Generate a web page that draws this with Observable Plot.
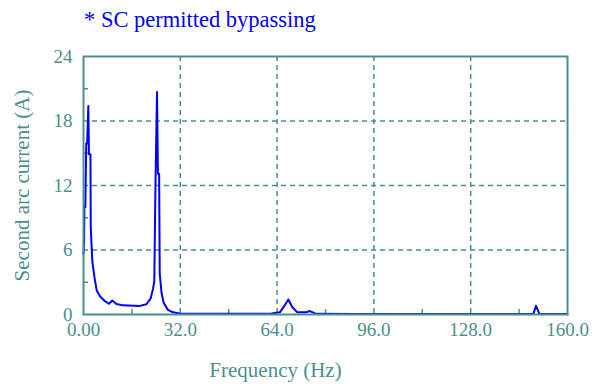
<!DOCTYPE html>
<html>
<head>
<meta charset="utf-8">
<script src="https://cdn.jsdelivr.net/npm/d3@7"></script>
<script src="https://cdn.jsdelivr.net/npm/@observablehq/plot@0.6"></script>
<style>
  body { margin: 0; background: #fff; }
  #title { height: 40px; font-family: "Liberation Serif", "DejaVu Serif", serif; font-size: 22.5px; color: #0000ff; padding-left: 84px; line-height: 40px; box-sizing: border-box; white-space: nowrap; }
</style>
</head>
<body>
<div id="title"></div>
<div id="chart"></div>
<script>
const titleText = "* SC permitted bypassing";
const xLabel = "Frequency (Hz)";
const yLabel = "Second arc current (A)";
const xTicks = [0, 32, 64, 96, 128, 160];
const xTickLabels = ["0.00", "32.0", "64.0", "96.0", "128.0", "160.0"];
const yTicks = [0, 6, 12, 18, 24];
const yTickLabels = ["0", "6", "12", "18", "24"];
const xMinor = [16, 48, 80, 112, 144];
const yMinor = [3, 9, 15, 21];

const freq = [0, 0.2, 0.3, 0.6, 0.9, 1.2, 1.6, 1.8, 2.3, 2.4, 2.9, 3.6, 4.4, 5.5, 7.1, 8.4, 9.5, 10.9, 13.1, 18.6, 20.8, 22.2, 23.0, 23.4, 23.8, 24.3, 24.6, 25.0, 25.2, 25.8, 26.5, 27.9, 29.6, 31.7, 40, 55, 62.2, 64.9, 66.3, 67.7, 69.0, 70.6, 73.5, 74.8, 75.8, 76.8, 90, 120, 145, 148.7, 149.6, 150.7, 160];
const current = [5.6, 6.9, 10.0, 10.0, 15.9, 15.9, 19.4, 14.9, 14.9, 8.1, 5.0, 3.5, 2.2, 1.67, 1.24, 1.0, 1.3, 0.97, 0.85, 0.8, 0.95, 1.5, 2.4, 3.1, 12.2, 20.7, 13.1, 13.1, 3.8, 2.0, 1.1, 0.43, 0.2, 0.1, 0.06, 0.06, 0.1, 0.2, 0.75, 1.4, 0.7, 0.22, 0.2, 0.32, 0.2, 0.06, 0.05, 0.05, 0.05, 0.05, 0.8, 0.05, 0.05];

document.getElementById("title").textContent = titleText;
const data = freq.map((f, i) => ({f, c: current[i]}));
const teal = "#4a8f8f";
const W = 603, H = 347;
const mt = 16, mb = 73, ml = 83, mr = 36;
const fh = H - mt - mb, fw = W - ml - mr;

const chart = Plot.plot({
  width: W, height: H,
  marginTop: mt, marginBottom: mb, marginLeft: ml, marginRight: mr,
  style: {fontFamily: "'Liberation Serif', 'DejaVu Serif', serif", background: "#fff", overflow: "visible"},
  x: {domain: [0, 160], ticks: xTicks},
  y: {domain: [0, 24], ticks: yTicks},
  marks: [
    Plot.gridX(xTicks.slice(1, -1), {stroke: teal, strokeOpacity: 1, strokeWidth: 1.5, strokeDasharray: "5,4"}),
    Plot.gridY(yTicks.slice(1, -1), {stroke: teal, strokeOpacity: 1, strokeWidth: 1.5, strokeDasharray: "5,4"}),
    Plot.ruleX(xMinor, {stroke: teal, strokeWidth: 1.5, insetTop: fh - 5}),
    Plot.ruleY(yMinor, {stroke: teal, strokeWidth: 1.5, insetRight: fw - 5}),
    Plot.line(data, {x: "f", y: "c", stroke: "#0000ff", strokeWidth: 2}),
    Plot.frame({stroke: teal, strokeWidth: 2}),
    Plot.axisX(xTicks, {tickSize: 0, tickPadding: 8, fontSize: 19, fill: teal, tickFormat: (d) => xTickLabels[xTicks.indexOf(d)], label: null}),
    Plot.axisY(yTicks, {tickSize: 0, tickPadding: 11, fontSize: 19, fill: teal, tickFormat: (d) => yTickLabels[yTicks.indexOf(d)], label: null}),
    Plot.text([xLabel], {frameAnchor: "bottom", dx: -50, dy: 62, fontSize: 21, fill: teal}),
    Plot.text([yLabel], {frameAnchor: "left", textAnchor: "middle", dx: -61, dy: 0, rotate: -90, fontSize: 21, fill: teal})
  ]
});
document.getElementById("chart").appendChild(chart);
</script>
</body>
</html>
